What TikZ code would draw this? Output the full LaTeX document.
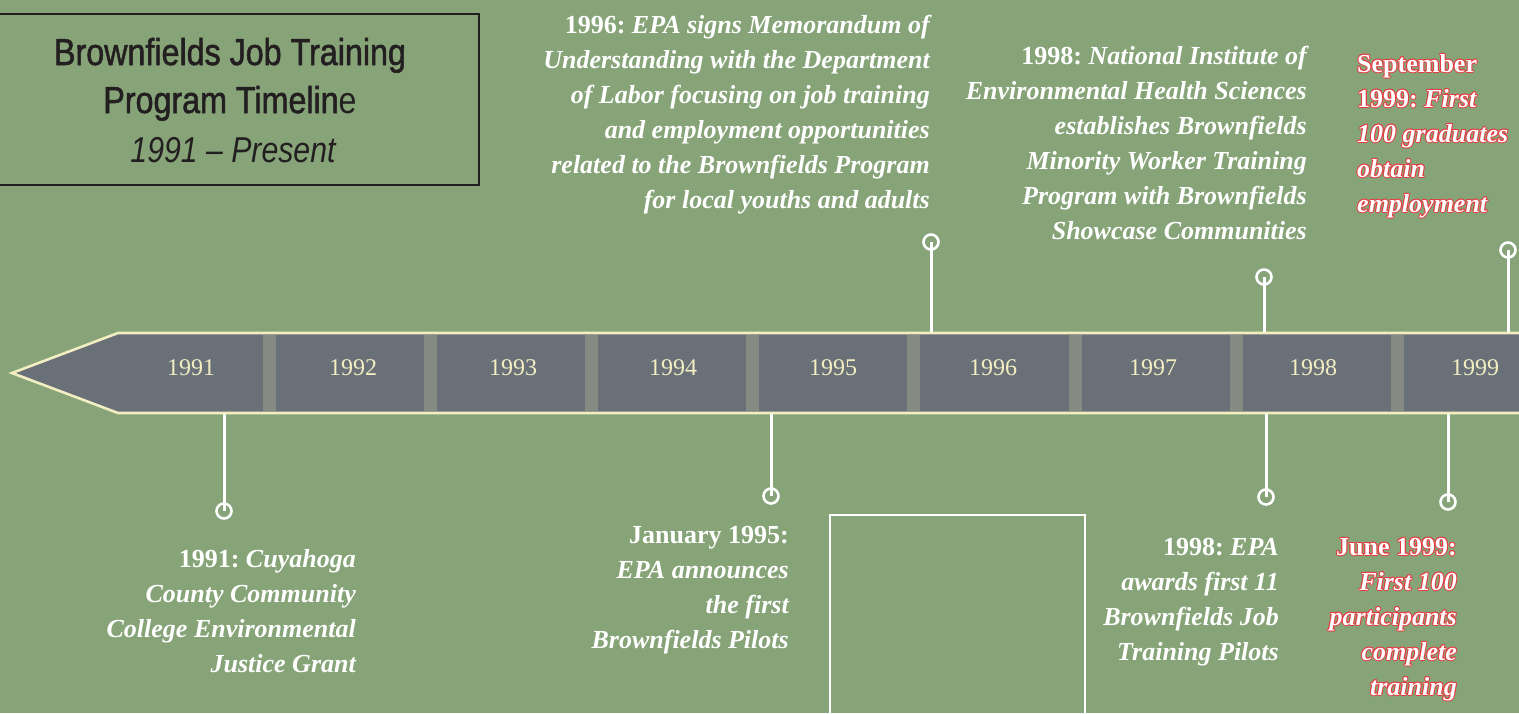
\documentclass[tikz,border=0pt]{standalone}
\usepackage{fontspec}
\usepackage{graphicx}
\setmainfont{Liberation Serif}
\newfontfamily\titlefont[FakeBold=1.6]{Liberation Sans}
\newfontfamily\titlelight{Liberation Sans}
\definecolor{bg}{HTML}{87A479}
\definecolor{bar}{HTML}{6A7077}
\definecolor{sep}{HTML}{858A83}
\definecolor{cream}{HTML}{F2EEC2}
\definecolor{ink}{HTML}{231F20}
\definecolor{halo}{HTML}{E53A3F}
\frenchspacing
\tikzset{
  year/.style={text=cream, font=\fontsize{24}{28}\selectfont, anchor=base, inner sep=0},
  event/.style={text=white, font=\fontsize{26}{35}\selectfont\bfseries\itshape\frenchspacing, inner sep=0},
  evr/.style={event, align=right, anchor=base east},
  evl/.style={event, align=left, anchor=base west},
  pinc/.style={circle, draw=white, line width=2.6, minimum size=15, inner sep=0},
  stick/.style={draw=white, line width=3},
  titletxt/.style={text=ink, font=\titlefont\fontsize{37.5}{40}\selectfont, anchor=base, inner sep=0},
}
\newcommand\halonode[4]{% name, style, position, text
  \foreach \dx/\dy [count=\k] in {1/0,-1/0,0/1,0/-1,0.7/0.7,0.7/-0.7,-0.7/0.7,-0.7/-0.7}
    \node[#2, text=halo, xshift=\dx pt, yshift=\dy pt] (#1h\k) at (#3) {#4};
  \node[#2] (#1) at (#3) {#4};
}
\begin{document}
\begin{tikzpicture}[x=1pt,y=-1pt]
\fill[bg] (0,0) rectangle (1519,713);
\useasboundingbox (0,0) rectangle (1519,713);

% title box
\node[draw=ink, line width=2.2, minimum width=485, minimum height=171, anchor=north west, inner sep=0] (titlebox) at (-7,13) {};
\node[titletxt] (t1) at (230,65) {\scalebox{0.86}[1]{Brownfields Job Training}};
\node[titletxt] (t2) at (230,113) {\scalebox{0.86}[1]{Program Timelin{\titlelight e}}};
\node[titletxt, font=\titlelight\fontsize{36}{40}\selectfont] (t3) at (233,162) {\scalebox{0.84}[1]{\itshape 1991 – Present}};

% timeline bar
\fill[bar] (1530,333) -- (118,333) -- (12,373) -- (118,413) -- (1530,413) -- cycle;
\foreach \i in {0,...,7} \fill[sep] ({263+161.1*\i},335) rectangle +(13,76);
\draw[cream, line width=2.6, line join=miter] (1530,333) -- (118,333) -- (12,373) -- (118,413) -- (1530,413);

\foreach \x/\y in {191/1991,353/1992,513/1993,673/1994,833/1995,993/1996,1153/1997,1313/1998,1475/1999}
  \node[year] (yr\y) at (\x,375) {\y};

% connection points on bar
\coordinate (b1991) at (224,414);
\coordinate (b1995) at (771,414);
\coordinate (b1996) at (931,332);
\coordinate (b1998t) at (1264,332);
\coordinate (b1998b) at (1266,414);
\coordinate (b1999t) at (1508,332);
\coordinate (b1999b) at (1448,414);

\node[pinc] (c1991) at (224,511) {};
\node[pinc] (c1995) at (771,496) {};
\node[pinc] (c1996) at (931,242) {};
\node[pinc] (c1998t) at (1264,277) {};
\node[pinc] (c1998b) at (1266,497) {};
\node[pinc] (c1999t) at (1508,250) {};
\node[pinc] (c1999b) at (1448,502) {};
\foreach \n in {1991,1995,1996,1998t,1998b,1999t,1999b}
  \draw[stick] (b\n) -- (c\n.center);

% events (anchor = baseline of last line)
\node[evr] (e1991) at (356,672) {\textup{1991:} Cuyahoga\\County Community\\College Environmental\\Justice Grant};
\node[evr] (e1995) at (789,648) {\textup{January 1995:}\\EPA announces\\the first\\Brownfields Pilots};
\node[evr] (e1996) at (930,208) {\textup{1996:} EPA signs Memorandum of\\Understanding with the Department\\of Labor focusing on job training\\and employment opportunities\\related to the Brownfields Program\\for local youths and adults};
\node[evr] (e1998t) at (1307,239) {\textup{1998:} National Institute of\\Environmental Health Sciences\\establishes Brownfields\\Minority Worker Training\\Program with Brownfields\\Showcase Communities};
\node[evr] (e1998b) at (1279,660) {\textup{1998:} EPA\\awards first 11\\Brownfields Job\\Training Pilots};
\coordinate (p1999t) at (1357,212);
\coordinate (p1999b) at (1457,695);
\halonode{e1999t}{evl}{p1999t}{\textup{September}\\\textup{1999:} First\\100 graduates\\obtain\\employment}
\halonode{e1999b}{evr}{p1999b}{\textup{June 1999:}\\First 100\\participants\\complete\\training}

% empty picture frame
\node[draw=white, line width=2.2, minimum width=255, minimum height=220, anchor=north west, inner sep=0] (frame) at (829,514) {};
\end{tikzpicture}
\end{document}
